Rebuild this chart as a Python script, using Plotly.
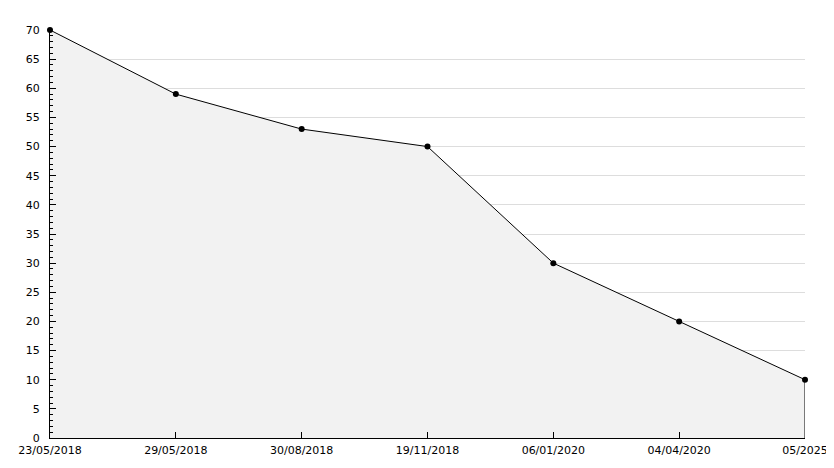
import plotly.graph_objects as go

dates = ["23/05/2018", "29/05/2018", "30/08/2018", "19/11/2018", "06/01/2020", "04/04/2020", "05/2025"]
values = [70, 59, 53, 50, 30, 20, 10]

fig = go.Figure()
fig.add_trace(go.Scatter(
    x=dates, y=values, mode="lines+markers", fill="tozeroy",
    fillcolor="#f2f2f2", line=dict(color="black", width=1),
    marker=dict(color="black", size=6, symbol="circle"),
    cliponaxis=False,
    hoverinfo="x+y", showlegend=False,
))
# closing edge of the filled area at the last point
fig.add_trace(go.Scatter(
    x=[dates[-1], dates[-1]], y=[values[-1], 0], mode="lines",
    line=dict(color="black", width=1), showlegend=False, hoverinfo="skip",
    cliponaxis=False,
))

fig.update_layout(
    width=834, height=468,
    margin=dict(l=42, r=37, t=22, b=38),
    paper_bgcolor="white", plot_bgcolor="white",
    font=dict(family="DejaVu Sans", size=11, color="black"),
)
fig.update_xaxes(
    type="category", range=[0, len(dates) - 1], automargin=False,
    showgrid=False, zeroline=False,
    showline=True, linecolor="black", linewidth=1,
    ticks="inside", ticklen=6, tickcolor="black",
    ticklabelstandoff=2,
)
fig.update_yaxes(
    range=[0, 70], dtick=5, tick0=0, automargin=False,
    showgrid=True, gridcolor="#dddddd", gridwidth=1, zeroline=False,
    showline=True, linecolor="black", linewidth=1,
    ticks="inside", ticklen=6, tickcolor="black",
    ticklabelstandoff=7,
    minor=dict(dtick=1, ticks="inside", ticklen=3, tickcolor="black", showgrid=False),
)

fig.write_html("out.html")
